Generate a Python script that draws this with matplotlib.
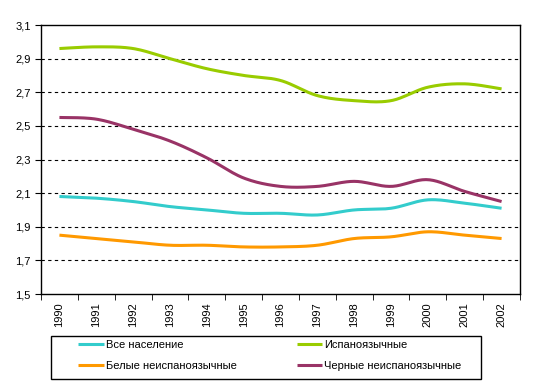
import numpy as np
import matplotlib
matplotlib.use('Agg')
import matplotlib.pyplot as plt
from matplotlib.patches import Rectangle

plt.rcParams['font.family'] = ['Liberation Sans', 'DejaVu Sans']

years = ['1990', '1991', '1992', '1993', '1994', '1995', '1996',
         '1997', '1998', '1999', '2000', '2001', '2002']
all_pop = [2.08, 2.07, 2.05, 2.02, 2.00, 1.98, 1.98, 1.97, 2.00, 2.01, 2.06, 2.04, 2.01]
hispanic = [2.96, 2.97, 2.96, 2.90, 2.84, 2.80, 2.77, 2.68, 2.65, 2.65, 2.73, 2.75, 2.72]
white = [1.85, 1.83, 1.81, 1.79, 1.79, 1.78, 1.78, 1.79, 1.83, 1.84, 1.87, 1.85, 1.83]
black = [2.55, 2.54, 2.48, 2.41, 2.31, 2.19, 2.14, 2.14, 2.17, 2.14, 2.18, 2.11, 2.05]


def smooth(y, n=20):
    # catmull-rom, как сглаженные линии в Excel
    y = np.asarray(y, float)
    x = np.arange(len(y), dtype=float)
    px = np.concatenate([[x[0]], x, [x[-1]]])
    py = np.concatenate([[y[0]], y, [y[-1]]])
    xs, ys = [], []
    t = np.linspace(0, 1, n, endpoint=False)
    for i in range(1, len(px) - 2):
        for p, out in ((px, xs), (py, ys)):
            p0, p1, p2, p3 = p[i - 1], p[i], p[i + 1], p[i + 2]
            out.extend(0.5 * (2 * p1 + (-p0 + p2) * t + (2 * p0 - 5 * p1 + 4 * p2 - p3) * t ** 2
                              + (-p0 + 3 * p1 - 3 * p2 + p3) * t ** 3))
    xs.append(x[-1]); ys.append(y[-1])
    return np.array(xs), np.array(ys)


fig = plt.figure(figsize=(5.35, 3.88), dpi=100)
ax = fig.add_axes([41 / 535, 1 - 294 / 388, 479 / 535, 269 / 388])

series = [
    (all_pop, '#33CCCC', 'Все население'),
    (white, '#FF9900', 'Белые неиспаноязычные'),
    (hispanic, '#99CC00', 'Испаноязычные'),
    (black, '#993366', 'Черные неиспаноязычные'),
]
handles = []
for vals, col, lab in series:
    sx, sy = smooth(vals)
    h, = ax.plot(sx, sy, color=col, lw=2.2, label=lab, solid_capstyle='butt')
    handles.append(h)

ax.set_xlim(-0.5, len(years) - 0.5)
ax.set_ylim(1.5, 3.1)
yt = np.arange(1.5, 3.11, 0.2)
ax.set_yticks(yt)
ax.set_yticklabels([f'{v:.1f}'.replace('.', ',') for v in yt], fontsize=8)
for v in yt[1:-1]:
    ax.axhline(v, color='black', lw=0.8, ls=(0, (3, 3)), zorder=0)

ax.set_xticks(np.arange(len(years)))
ax.set_xticklabels(years, rotation=90, fontsize=8)
ax.set_xticks(np.arange(-0.5, len(years)), minor=True)
ax.tick_params(axis='x', which='major', length=0, pad=6)
ax.tick_params(axis='x', which='minor', length=4, direction='out', color='black')
ax.tick_params(axis='y', length=4, direction='out', color='black')
for s in ax.spines.values():
    s.set_color('black')
    s.set_linewidth(1)

# рамка легенды
fig.add_artist(Rectangle((51 / 535, 1 - 379 / 388), 430 / 535, 43 / 388,
                         transform=fig.transFigure, fill=False, ec='black', lw=1))
leg = fig.legend(handles=handles, loc='upper left', ncol=2,
                 bbox_to_anchor=(78 / 535, 1 - 340 / 388), fontsize=8,
                 frameon=False, borderpad=0, borderaxespad=0,
                 handlelength=2.3, handletextpad=0.2, columnspacing=5.4,
                 labelspacing=0.95)

fig.savefig('out.png', dpi=100)
